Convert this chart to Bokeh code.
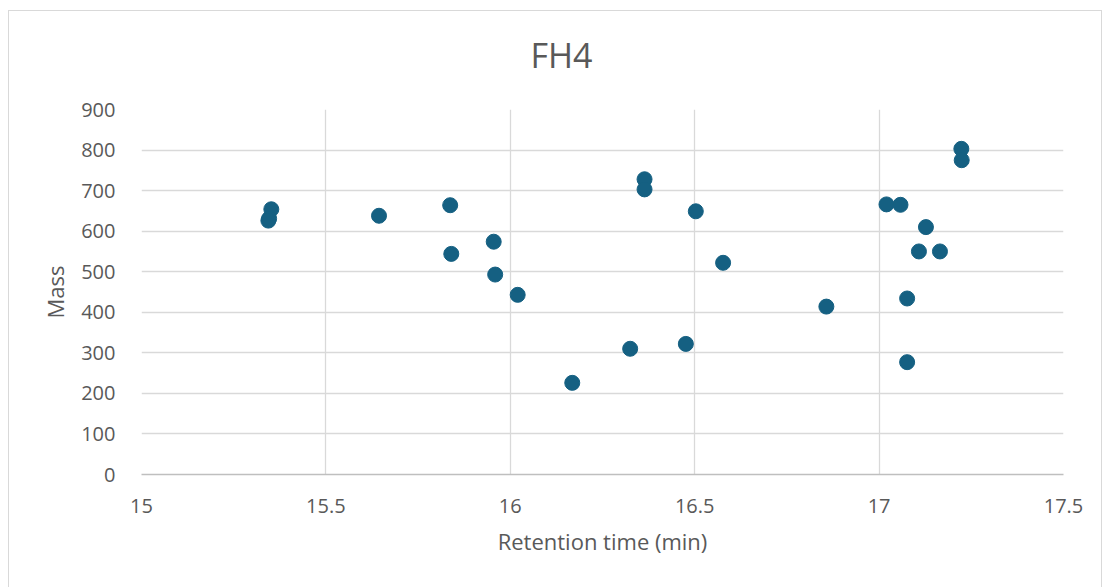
from bokeh.plotting import figure
from bokeh.models import Range1d, FixedTicker, Title
from bokeh.embed import file_html
from bokeh.resources import INLINE

retention_time = [15.352, 15.346, 15.344, 15.644, 15.837, 15.840, 15.955, 15.959, 16.020,
                  16.168, 16.325, 16.476, 16.364, 16.364, 16.503, 16.577,
                  16.857, 17.223, 17.224, 17.020, 17.058, 17.127, 17.108, 17.165,
                  17.076, 17.076]
mass = [654, 631, 626, 638, 664, 544, 574, 493, 443,
        226, 310, 322, 728, 703, 649, 522,
        414, 803, 775, 666, 665, 610, 550, 550,
        434, 277]

x_ticks = [15, 15.5, 16, 16.5, 17, 17.5]
y_ticks = [0, 100, 200, 300, 400, 500, 600, 700, 800, 900]
chart_title = "FH4"

FONT = "Open Sans"
GREY = "#595959"
EDGE = "linear-gradient(#D9D9D9,#D9D9D9)"

p = figure(width=1104, height=592, output_backend="svg", toolbar_location=None,
           x_range=Range1d(15, 17.5), y_range=Range1d(0, 900),
           min_border_left=141, min_border_right=41, min_border_top=114, min_border_bottom=113)
p.margin = (-5, 0, 0, 0)
# light grey chart-area border (top, left, right) drawn behind the transparent canvas border
p.styles = {"background": f"{EDGE} 8px 15px / 1094px 1px no-repeat, "
                          f"{EDGE} 8px 15px / 1px 700px no-repeat, "
                          f"{EDGE} 1101px 15px / 1px 700px no-repeat, white"}
p.outline_line_color = None
p.background_fill_color = "white"
p.border_fill_alpha = 0

p.title = Title(text=chart_title, align="left", offset=389, text_font=FONT, text_font_size="34px",
                text_color=GREY, text_font_style="normal", standoff=64)

p.scatter(retention_time, mass, size=15, color="#156082", line_color="#156082")

p.xaxis.ticker = FixedTicker(ticks=x_ticks)
p.yaxis.ticker = FixedTicker(ticks=y_ticks)
p.xaxis.major_label_overrides = {15: "15", 15.5: "15.5", 16: "16", 16.5: "16.5", 17: "17", 17.5: "17.5"}

for ax in (p.xaxis, p.yaxis):
    ax.major_tick_line_color = None
    ax.minor_tick_line_color = None
    ax.major_label_text_font = FONT
    ax.major_label_text_font_size = "20px"
    ax.major_label_text_color = GREY
    ax.axis_label_text_font = FONT
    ax.axis_label_text_font_size = "22px"
    ax.axis_label_text_color = GREY
    ax.axis_label_text_font_style = "normal"

p.xaxis.axis_line_color = "#BFBFBF"
p.xaxis.axis_line_width = 1.5
p.yaxis.axis_line_color = None
p.xaxis.axis_label = "Retention time (min)"
p.yaxis.axis_label = "Mass"
p.xaxis.major_label_standoff = 18
p.yaxis.major_label_standoff = 20
p.xaxis.axis_label_standoff = 10
p.yaxis.axis_label_standoff = 8

p.xgrid.grid_line_color = "#D9D9D9"
p.ygrid.grid_line_color = "#D9D9D9"
p.xgrid.grid_line_width = 1.3
p.ygrid.grid_line_width = 1.3

open("out.html", "w").write(file_html(p, INLINE))
